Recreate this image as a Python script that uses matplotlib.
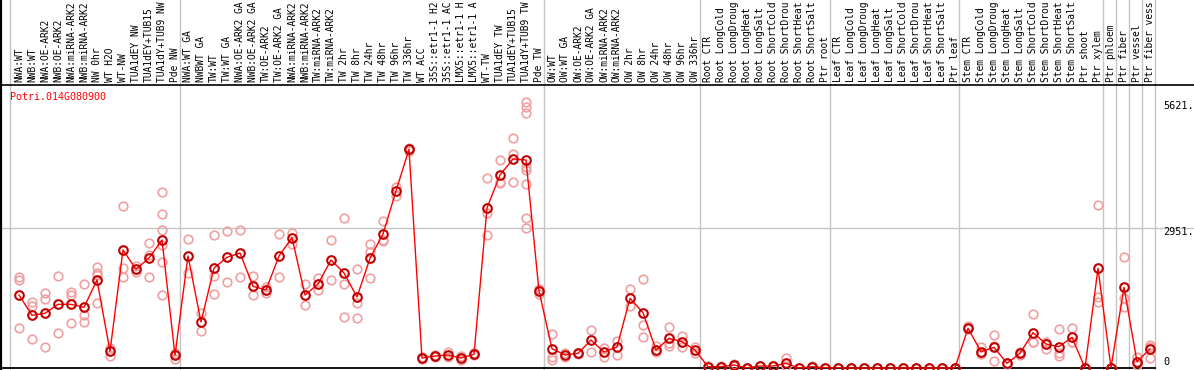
import matplotlib
matplotlib.use('Agg')
import matplotlib.pyplot as plt
from matplotlib.lines import Line2D

# sample labels (as shown, cut at 14 characters)
labels = [
    'NWA:WT', 'NWB:WT', 'NWA:OE-ARK2', 'NWB:OE-ARK2', 'NWA:miRNA-ARK2', 'NWB:miRNA-ARK2',
    'NW 0hr', 'WT H2O', 'WT-NW', 'TUA1dEY NW', 'TUA1dEY+TUB15', 'TUA1dY+TUB9 NW', 'Pde NW',
    'NWA:WT GA', 'NWBWT GA', 'TW:WT', 'TW:WT GA', 'NWA:OE-ARK2 GA', 'NWB:OE-ARK2 GA',
    'TW:OE-ARK2', 'TW:OE-ARK2 GA', 'NWA:miRNA-ARK2', 'NWB:miRNA-ARK2', 'TW:miRNA-ARK2',
    'TW:miRNA-ARK2', 'TW 2hr', 'TW 8hr', 'TW 24hr', 'TW 48hr', 'TW 96hr', 'TW 336hr',
    'WT ACC', '35S::etr1-1 H2', '35S::etr1-1 AC', 'LMX5::etr1-1 H', 'LMX5::etr1-1 A',
    'WT-TW', 'TUA1dEY TW', 'TUA1dEY+TUB15', 'TUA1dY+TUB9 TW', 'Pde TW',
    'OW:WT', 'OW:WT GA', 'OW:OE-ARK2', 'OW:OE-ARK2 GA', 'OW:miRNA-ARK2', 'OW:miRNA-ARK2',
    'OW 2hr', 'OW 8hr', 'OW 24hr', 'OW 48hr', 'OW 96hr', 'OW 336hr',
    'Root CTR', 'Root LongCold', 'Root LongDroug', 'Root LongHeat', 'Root LongSalt',
    'Root ShortCold', 'Root ShortDrou', 'Root ShortHeat', 'Root ShortSalt', 'Ptr root',
    'Leaf CTR', 'Leaf LongCold', 'Leaf LongDroug', 'Leaf LongHeat', 'Leaf LongSalt',
    'Leaf ShortCold', 'Leaf ShortDrou', 'Leaf ShortHeat', 'Leaf ShortSalt', 'Ptr leaf',
    'Stem CTR', 'Stem LongCold', 'Stem LongDroug', 'Stem LongHeat', 'Stem LongSalt',
    'Stem ShortCold', 'Stem ShortDrou', 'Stem ShortHeat', 'Stem ShortSalt', 'Ptr shoot',
    'Ptr xylem', 'Ptr phloem', 'Ptr fiber', 'Ptr vessel', 'Ptr fiber vess',
]

# first column of each group
group_starts = [0, 13, 41, 53, 63, 73, 84, 85, 86, 87, 88]

# mean expression per sample
means = [
    1542, 1113, 1155, 1345, 1345, 1282, 1859, 352, 2493, 2085, 2324, 2704, 268,
    2366, 972, 2112, 2338, 2429, 1725, 1648, 2366, 2753, 1542, 1774, 2281, 2007,
    1500, 2317, 2831, 3739, 4620, 211, 253, 275, 211, 289, 3380, 4077, 4415, 4394, 1627,
    408, 275, 310, 591, 338, 444, 1472, 1169, 380, 627, 556, 380,
    28, 28, 63, 5, 42, 42, 99, 0, 28, 7,
    7, 0, 0, 0, 0, 2, 0, 0, 0, 7,
    838, 345, 437, 99, 310, 746, 507, 451, 648, 0, 2105,
    10, 1704, 134, 401,
]

# replicate values per sample
reps = [
    [1916, 1859, 845], [1401, 1310, 606], [1591, 1464, 444], [1950, 733],
    [1612, 1542, 944], [1768, 1113, 965], [2127, 2014, 1958, 1367], [416, 260],
    [3415, 2106, 1916], [2155, 2035], [2634, 2387, 1916],
    [3711, 3246, 2915, 2598, 2246, 1535], [310, 197],
    [2718, 2014], [1169, 775], [2809, 1943, 1563], [2894, 1810], [2915, 1916],
    [1943, 1542], [1704, 1578], [2831, 1916], [2859, 2619], [1774, 1331],
    [1908, 1648], [2704, 1852], [3169, 1768, 1071], [2085, 1367, 1050],
    [2619, 2444, 1895], [3105, 2704, 2683], [3830, 3633], [4650, 4590],
    [225, 200], [265, 240], [338, 239], [253, 169], [310, 275],
    [4007, 3267, 2809], [4394, 3922, 3915], [4852, 4514, 3922],
    [5621, 5507, 5393, 4253, 4183, 3881, 3162, 2951], [1662, 1563],
    [718, 239, 169], [310, 239], [320, 300], [803, 345], [416, 239], [577, 275],
    [1662, 1310], [1874, 902, 662], [465, 345], [859, 521, 465], [676, 437], [451, 310],
    [35, 20], [35, 20], [75, 50], [10, 0], [50, 35], [50, 35], [204, 42], [5, 0],
    [40, 20], [10, 5],
    [10, 5], [5, 0], [5, 0], [5, 0], [5, 0], [5, 0], [5, 0], [5, 0], [5, 0], [10, 5],
    [887, 817], [437, 310, 290], [690, 465, 155], [110, 90], [345, 275],
    [1141, 555, 542], [556, 395], [817, 324, 253], [838, 556, 550], [5, 0],
    [3436, 1493, 1401],
    [10, 0], [2338, 1472, 1282], [239, 63], [486, 437, 204],
]

gene = 'Potri.014G080900'
y_ticks = [5621, 2951, 0]
y_tick_labels = ['5621.', '2951.', '0']

W, H = 1194, 370
fig = plt.figure(figsize=(W / 100, H / 100), dpi=100)
ax = fig.add_axes([0, 0, 1, 285 / H])

# 13 px per column, first column at x=19 px
ax.set_xlim(-19 / 13, (W - 19) / 13)
upp = 2951 / 139.7
ax.set_ylim(-2 * upp, 283 * upp)
ax.set_xticks([])
ax.set_yticks([])
for s in ['bottom', 'right', 'left']:
    ax.spines[s].set_visible(False)
ax.spines['top'].set_color('black')
ax.spines['top'].set_linewidth(1.2)

grey = '#c4c4c4'
ax.axhline(2951, color=grey, lw=1, zorder=1)

# group separators run through the header too
for g in group_starts:
    b = g - 8.5 / 13
    ax.plot([b, b], [0, H / 285], transform=ax.get_xaxis_transform(),
            color=grey, lw=1, clip_on=False, zorder=1)

# zero line
ax.plot([-19 / 13, 88 - 8.5 / 13], [0, 0], color='black', lw=1.3, zorder=2)
fig.add_artist(Line2D([0.0008, 0.0008], [0, 1], transform=fig.transFigure,
                      color='black', lw=1.6))

x = list(range(len(labels)))
for i, r in enumerate(reps):
    ax.plot([i] * len(r), r, 'o', ms=6.2, mfc='none', mec='#f0a0a0', mew=1.2,
            clip_on=False, zorder=3)
ax.plot(x, means, '-', color='red', lw=1, zorder=4)
ax.plot(x, means, 'o', ms=6.2, mfc='none', mec='#c00000', mew=1.5, zorder=5)

mono = 'DejaVu Sans Mono'
for i, lab in enumerate(labels):
    ax.text(i, 1 + 3 / 285, lab, rotation=90, ha='center', va='bottom',
            family=mono, fontsize=6.9, transform=ax.get_xaxis_transform(),
            clip_on=False)

ax.text(10 / W, (H - 97) / 285, gene, color='red', family=mono, fontsize=7.2,
        ha='left', va='center', transform=ax.transAxes)

for v, t in zip(y_ticks, y_tick_labels):
    dy = 6 if v == 0 else -4
    ax.annotate(t, xy=(88.0, v), xytext=(0, dy), textcoords='offset pixels',
                ha='left', va='center', family=mono, fontsize=7.4)

fig.savefig('out.png', dpi=100)
